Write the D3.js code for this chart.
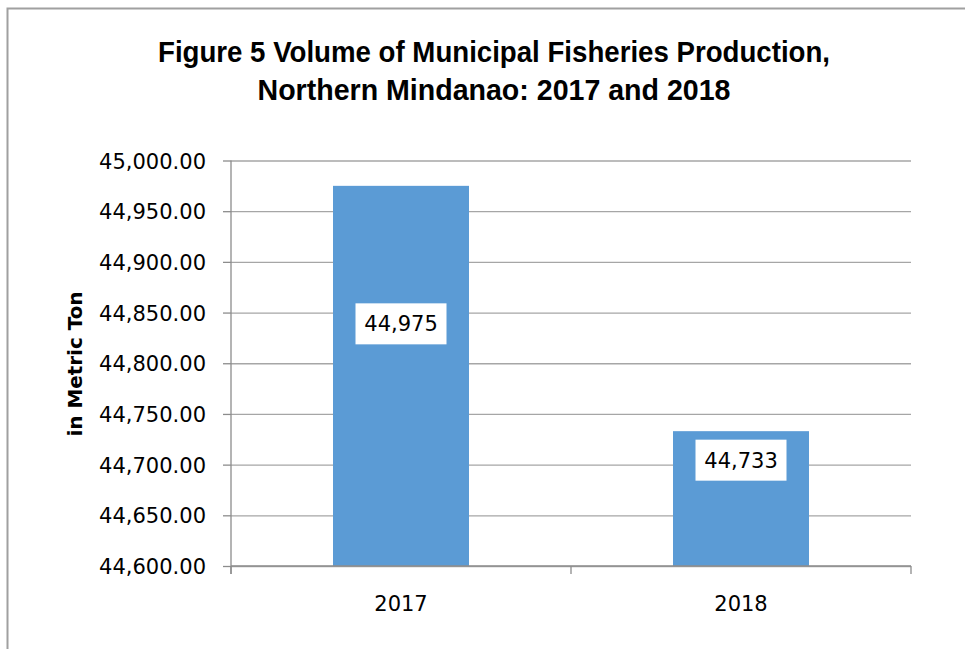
<!DOCTYPE html>
<html>
<head>
<meta charset="utf-8">
<script src="https://cdn.jsdelivr.net/npm/d3@7"></script>
<style>
  body { margin: 0; background: #fff; }
  svg { display: block; }
  .tick-label { font-family: "DejaVu Sans", sans-serif; font-size: 21px; fill: #000; }
</style>
</head>
<body>
<div id="chart"></div>
<script>
// data
var years = ["2017", "2018"];
var volume = [44975, 44733];
var valueLabels = ["44,975", "44,733"];
var yTicks = [44600, 44650, 44700, 44750, 44800, 44850, 44900, 44950, 45000];
var titleLines = ["Figure 5 Volume of Municipal Fisheries Production,", "Northern Mindanao: 2017 and 2018"];

// layout
const width = 965, height = 649;
const plot = { left: 231, right: 911, top: 160.5, bottom: 566 };
const labelDy = [138, 29]; // label centre below bar top, px

const svg = d3.select("#chart").append("svg")
    .attr("width", width)
    .attr("height", height);

// outer chart border (runs off the right / bottom edge)
svg.append("rect")
    .attr("x", 7.5).attr("y", 8.5)
    .attr("width", width + 20).attr("height", height + 20)
    .attr("fill", "#fff")
    .attr("stroke", "#a0a0a0")
    .attr("stroke-width", 2);

// title
svg.selectAll(".title")
    .data(titleLines)
    .enter().append("text")
    .attr("class", "title")
    .attr("x", 494)
    .attr("y", (d, i) => 62 + i * 38)
    .attr("text-anchor", "middle")
    .style("font-family", "'Liberation Sans', Arial, sans-serif")
    .style("font-weight", "bold")
    .style("font-size", "29px")
    .attr("textLength", (d, i) => i == 0 ? 672 : 473)
    .attr("lengthAdjust", "spacingAndGlyphs")
    .text(d => d);

// scales
const yScale = d3.scaleLinear()
    .domain([yTicks[0], yTicks[yTicks.length - 1]])
    .range([plot.bottom, plot.top]);

const xScale = d3.scaleBand()
    .domain(years)
    .range([plot.left, plot.right])
    .padding(0);

// gridlines
svg.append("g")
    .attr("transform", `translate(${plot.left},0)`)
    .call(d3.axisLeft(yScale).tickValues(yTicks).tickSize(-(plot.right - plot.left)).tickFormat(""))
    .call(g => g.select(".domain").remove())
    .call(g => g.selectAll("line").attr("stroke", "#a6a6a6").attr("stroke-width", 1.3));

// y axis
const yAxis = svg.append("g")
    .attr("transform", `translate(${plot.left},0)`)
    .call(d3.axisLeft(yScale).tickValues(yTicks).tickSize(8).tickPadding(17).tickFormat(d3.format(",.2f")));
yAxis.select(".domain").attr("d", `M0,${plot.top}V${plot.bottom + 8}`).attr("stroke", "#8c8c8c").attr("stroke-width", 1.3);
yAxis.selectAll(".tick line").attr("stroke", "#8c8c8c").attr("stroke-width", 1.3);
yAxis.selectAll(".tick text").attr("class", "tick-label").attr("dy", "0.36em");

// bars
const barW = xScale.bandwidth() * 0.4;
svg.selectAll(".bar")
    .data(volume)
    .enter().append("rect")
    .attr("class", "bar")
    .attr("x", (d, i) => xScale(years[i]) + (xScale.bandwidth() - barW) / 2)
    .attr("y", d => yScale(d))
    .attr("width", barW)
    .attr("height", d => plot.bottom - yScale(d))
    .attr("fill", "#5b9bd5");

// x axis
const xAxis = svg.append("g")
    .attr("transform", `translate(0,${plot.bottom})`);
xAxis.append("line")
    .attr("x1", plot.left).attr("x2", plot.right)
    .attr("stroke", "#8c8c8c").attr("stroke-width", 1.3);
xAxis.selectAll(".xtick")
    .data([plot.left].concat(years.map(y => xScale(y) + xScale.bandwidth())))
    .enter().append("line")
    .attr("x1", d => d).attr("x2", d => d)
    .attr("y1", 0).attr("y2", 8)
    .attr("stroke", "#8c8c8c").attr("stroke-width", 1.3);
xAxis.selectAll(".xlabel")
    .data(years)
    .enter().append("text")
    .attr("class", "tick-label")
    .attr("x", d => xScale(d) + xScale.bandwidth() / 2)
    .attr("y", 45)
    .attr("text-anchor", "middle")
    .text(d => d);

// data labels
const lab = svg.selectAll(".dlabel")
    .data(volume)
    .enter().append("g")
    .attr("class", "dlabel")
    .attr("transform", (d, i) => `translate(${xScale(years[i]) + xScale.bandwidth() / 2},${yScale(d) + labelDy[i]})`);
lab.append("rect")
    .attr("x", -45.5).attr("y", -20.5)
    .attr("width", 91).attr("height", 41)
    .attr("fill", "#fff");
lab.append("text")
    .attr("class", "tick-label")
    .attr("text-anchor", "middle")
    .attr("dy", "0.36em")
    .text((d, i) => valueLabels[i]);

// y axis title
svg.append("text")
    .attr("transform", "translate(82,364) rotate(-90)")
    .attr("text-anchor", "middle")
    .style("font-family", "'DejaVu Sans', sans-serif")
    .style("font-weight", "bold")
    .style("font-size", "19px")
    .attr("textLength", 145)
    .attr("lengthAdjust", "spacingAndGlyphs")
    .text("in Metric Ton");
</script>
</body>
</html>
